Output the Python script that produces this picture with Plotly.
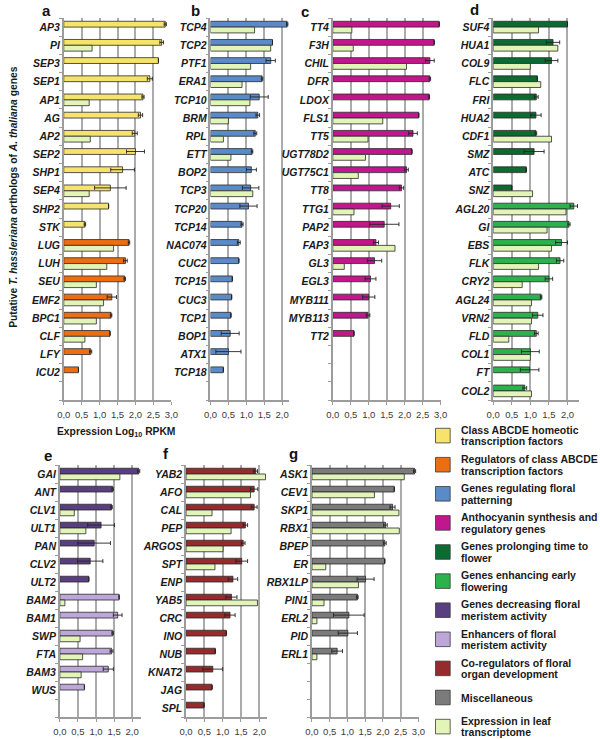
import plotly.graph_objects as go

W, H = 600, 739
FONT = 'Liberation Sans, Arial, sans-serif'

COLORS = {
    'abcde': '#F5E36B',
    'regulators': '#EC6E12',
    'patterning': '#5B8AC8',
    'anthocyanin': '#C1168C',
    'prolonging': '#0B6B30',
    'enhancing': '#2BB24C',
    'decreasing': '#5A3F80',
    'enhancers': '#BCA7D8',
    'coregulators': '#962B2E',
    'misc': '#7B7B7B',
    'leaf': '#E3F4B8',
}

# --- data (Log10 RPKM) ---
a_genes = ['AP3', 'PI', 'SEP3', 'SEP1', 'AP1', 'AG', 'AP2', 'SEP2', 'SHP1', 'SEP4',
           'SHP2', 'STK', 'LUG', 'LUH', 'SEU', 'EMF2', 'BPC1', 'CLF', 'LFY', 'ICU2']
a_values = [2.83, 2.73, 2.64, 2.40, 2.21, 2.14, 1.98, 2.00, 1.64, 1.30,
            1.25, 0.59, 1.82, 1.72, 1.70, 1.34, 1.32, 1.29, 0.75, 0.41]
a_errors = [0.03, 0.05, None, 0.07, 0.03, 0.06, 0.07, 0.25, 0.33, 0.44,
            None, 0.02, 0.02, 0.05, 0.02, 0.13, 0.02, None, 0.03, None]
a_leaf = [None, 0.79, None, None, 0.71, None, 0.74, None, None, 0.71,
          None, None, 1.39, 1.20, 0.91, 1.11, 0.91, 0.59, None, None]
a_groups = ['abcde'] * 12 + ['regulators'] * 8

b_genes = ['TCP4', 'TCP2', 'PTF1', 'ERA1', 'TCP10', 'BRM', 'RPL', 'ETT', 'BOP2', 'TCP3',
           'TCP20', 'TCP14', 'NAC074', 'CUC2', 'TCP15', 'CUC3', 'TCP1', 'BOP1', 'ATX1', 'TCP18']
b_values = [2.14, 1.73, 1.68, 1.44, 1.36, 1.32, 1.25, 1.16, 1.14, 1.12,
            1.06, 0.88, 0.79, 0.79, 0.61, 0.59, 0.57, 0.55, 0.50, 0.36]
b_errors = [0.02, None, 0.13, 0.02, 0.25, 0.05, 0.04, 0.02, 0.14, 0.23,
            0.24, 0.03, 0.04, None, None, None, None, 0.25, 0.35, None]
b_leaf = [1.23, 1.68, 1.12, 0.88, 1.10, 0.50, 0.36, 0.57, None, 1.18,
          None, None, None, None, None, None, None, None, None, None]
b_groups = ['patterning'] * 20

c_genes = ['TT4', 'F3H', 'CHIL', 'DFR', 'LDOX', 'FLS1', 'TT5', 'UGT78D2', 'UGT75C1', 'TT8',
           'TTG1', 'PAP2', 'FAP3', 'GL3', 'EGL3', 'MYB111', 'MYB113', 'TT2']
c_values = [2.96, 2.82, 2.70, 2.70, 2.68, 2.39, 2.23, 2.20, 2.05, 1.91,
            1.61, 1.43, 1.20, 1.16, 1.05, 1.00, 0.98, 0.59]
c_errors = [None, None, 0.12, 0.02, 0.01, None, 0.12, None, 0.05, 0.06,
            0.24, 0.41, 0.07, 0.20, 0.15, 0.17, 0.05, None]
c_leaf = [0.53, 0.57, 2.05, None, None, 1.39, 0.98, 0.91, 0.71, None,
          0.59, None, 1.73, 0.32, None, None, None, None]
c_groups = ['anthocyanin'] * 18

d_genes = ['SUF4', 'HUA1', 'COL9', 'FLC', 'FRI', 'HUA2', 'CDF1', 'SMZ', 'ATC', 'SNZ',
           'AGL20', 'GI', 'EBS', 'FLK', 'CRY2', 'AGL24', 'VRN2', 'FLD', 'COL1', 'FT', 'COL2']
d_values = [2.00, 1.61, 1.57, 1.19, 1.16, 1.15, 1.15, 1.10, 0.89, 0.50,
            2.17, 2.04, 1.84, 1.80, 1.50, 1.29, 1.20, 1.16, 1.00, 0.98, 0.85]
d_errors = [None, 0.18, 0.17, None, 0.05, 0.14, 0.02, 0.27, None, None,
            0.10, 0.03, 0.16, 0.10, 0.10, 0.02, 0.14, 0.05, 0.24, 0.25, 0.05]
d_leaf = [1.22, 1.74, 1.00, 1.28, None, None, 1.57, None, None, 1.06,
          1.96, 1.45, 1.57, 1.22, 0.78, 1.03, 1.03, 0.42, 1.00, None, 1.03]
d_groups = ['prolonging'] * 10 + ['enhancing'] * 11

e_genes = ['GAI', 'ANT', 'CLV1', 'ULT1', 'PAN', 'CLV2', 'ULT2', 'BAM2', 'BAM1', 'SWP',
           'FTA', 'BAM3', 'WUS']
e_values = [2.18, 1.46, 1.43, 1.14, 0.95, 0.84, 0.80, 1.64, 1.60, 1.46,
            1.43, 1.34, 0.68]
e_errors = [0.03, 0.02, 0.02, 0.37, 0.45, 0.35, None, None, 0.12, 0.02,
            0.04, 0.14, None]
e_leaf = [1.66, None, 0.40, 0.72, None, None, None, 0.14, None, 0.56,
          0.63, 0.59, None]
e_groups = ['decreasing'] * 7 + ['enhancers'] * 6

f_genes = ['YAB2', 'AFO', 'CAL', 'PEP', 'ARGOS', 'SPT', 'ENP', 'YAB5', 'CRC', 'INO',
           'NUB', 'KNAT2', 'JAG', 'SPL']
f_values = [1.90, 1.86, 1.86, 1.62, 1.56, 1.52, 1.28, 1.24, 1.20, 1.10,
            0.80, 0.73, 0.71, 0.49]
f_errors = [0.05, 0.10, 0.08, 0.06, 0.05, 0.16, 0.13, 0.15, 0.14, None,
            None, 0.27, None, None]
f_leaf = [2.17, 1.76, 0.71, 1.23, 1.01, 0.79, None, 1.95, None, None,
          None, None, None, None]
f_groups = ['coregulators'] * 14

g_genes = ['ASK1', 'CEV1', 'SKP1', 'RBX1', 'BPEP', 'ER', 'RBX1LP', 'PIN1', 'ERL2', 'PID', 'ERL1']
g_values = [2.89, 2.32, 2.27, 2.07, 2.05, 2.05, 1.51, 1.28, 1.04, 1.01, 0.71]
g_errors = [0.03, None, 0.07, 0.05, 0.04, None, 0.24, 0.02, 0.43, 0.27, 0.15]
g_leaf = [2.60, 1.76, 2.45, 2.46, None, 0.39, 1.31, 0.34, 0.14, None, 0.14]
g_groups = ['misc'] * 11

legend_keys = ['abcde', 'regulators', 'patterning', 'anthocyanin', 'prolonging',
               'enhancing', 'decreasing', 'enhancers', 'coregulators', 'misc', 'leaf']
legend_labels = [
    ['Class ABCDE homeotic', 'transcription factors'],
    ['Regulators of class ABCDE', 'transcription factors'],
    ['Genes regulating floral', 'patterning'],
    ['Anthocyanin synthesis and', 'regulatory genes'],
    ['Genes prolonging time to', 'flower'],
    ['Genes enhancing early', 'flowering'],
    ['Genes decreasing floral', 'meristem activity'],
    ['Enhancers of floral', 'meristem activity'],
    ['Co-regulators of floral', 'organ development'],
    ['Miscellaneous'],
    ['Expression in leaf', 'transcriptome'],
]

# --- panel placement (pixels) ---
panels = [
    dict(tag='a', genes=a_genes, values=a_values, errors=a_errors, leaf=a_leaf, groups=a_groups,
         x0=58, x1=168.1, xmax=3.0, y0=18, y1=400, slots=21, lab=(40, 10)),
    dict(tag='b', genes=b_genes, values=b_values, errors=b_errors, leaf=b_leaf, groups=b_groups,
         x0=208, x1=288.7, xmax=2.2, y0=18, y1=400, slots=21, lab=(193, 10)),
    dict(tag='c', genes=c_genes, values=c_values, errors=c_errors, leaf=c_leaf, groups=c_groups,
         x0=333, x1=443.4, xmax=3.0, y0=18, y1=400, slots=21, lab=(305, 11)),
    dict(tag='d', genes=d_genes, values=d_values, errors=d_errors, leaf=d_leaf, groups=d_groups,
         x0=497, x1=584.4, xmax=2.3, y0=18, y1=400, slots=21, lab=(478, 9)),
    dict(tag='e', genes=e_genes, values=e_values, errors=e_errors, leaf=e_leaf, groups=e_groups,
         x0=54, x1=137.3, xmax=2.25, y0=465, y1=717, slots=14, lab=(42, 455)),
    dict(tag='f', genes=f_genes, values=f_values, errors=f_errors, leaf=f_leaf, groups=f_groups,
         x0=183, x1=265.5, xmax=2.2, y0=465, y1=717, slots=14, lab=(163, 453)),
    dict(tag='g', genes=g_genes, values=g_values, errors=g_errors, leaf=g_leaf, groups=g_groups,
         x0=311.7, x1=420.7, xmax=3.0, y0=465, y1=717, slots=14, lab=(293, 453)),
]

AXIS_GREY = '#9c9c9c'

fig = go.Figure()
layout = dict(
    width=W, height=H,
    margin=dict(l=0, r=0, t=0, b=0),
    paper_bgcolor='white', plot_bgcolor='white',
    barmode='group', bargap=0.36, bargroupgap=0,
    showlegend=False,
    font=dict(family=FONT, color='#1a1a1a'),
)
annotations = []
shapes = []

for i, p in enumerate(panels):
    n = len(p['genes'])
    pos = list(range(n))
    suffix = '' if i == 0 else str(i + 1)
    xa, ya = 'x' + suffix, 'y' + suffix

    fig.add_trace(go.Bar(
        x=p['values'], y=pos, orientation='h',
        marker=dict(color=[COLORS[g] for g in p['groups']],
                    line=dict(color='#2a2a2a', width=0.8)),
        error_x=dict(type='data', array=p['errors'], color='#222222', thickness=0.9, width=2),
        xaxis=xa, yaxis=ya, hoverinfo='x+text', text=p['genes'], textposition='none',
    ))
    fig.add_trace(go.Bar(
        x=p['leaf'], y=pos, orientation='h',
        marker=dict(color=COLORS['leaf'], line=dict(color='#2a2a2a', width=0.8)),
        xaxis=xa, yaxis=ya, hoverinfo='x+text', text=p['genes'], textposition='none',
    ))

    tick_top = 3.0 if p['xmax'] >= 3.0 else 2.0
    tvals = [k * 0.5 for k in range(int(tick_top / 0.5) + 1)]
    layout['xaxis' + suffix] = dict(
        domain=[p['x0'] / W, p['x1'] / W], anchor=ya,
        range=[0, p['xmax'] + 0.003],
        tickmode='array', tickvals=tvals,
        ticktext=[f'{t:.1f}'.replace('.', ',') for t in tvals],
        showgrid=True, gridcolor='#ababab', gridwidth=1.5,
        showline=True, linecolor=AXIS_GREY, linewidth=1.5,
        ticks='outside', ticklen=3, tickcolor=AXIS_GREY, ticklabelstandoff=2,
        tickfont=dict(family=FONT, size=9.5, color='#3a3a3a'),
        zeroline=False, fixedrange=True,
    )
    layout['yaxis' + suffix] = dict(
        domain=[1 - p['y1'] / H, 1 - p['y0'] / H], anchor=xa,
        range=[p['slots'] - 0.5, -0.5],
        tickmode='array', tickvals=pos, ticktext=p['genes'], ticks='',
        tickfont=dict(family=FONT, size=10.5, color='#1a1a1a', weight='bold', style='italic'),
        minor=dict(tickmode='array', tickvals=[k - 0.5 for k in range(p['slots'] + 1)],
                   ticks='outside', ticklen=3, tickcolor=AXIS_GREY, tickwidth=1),
        showline=True, linecolor=AXIS_GREY, linewidth=1.5,
        showgrid=False, zeroline=False, fixedrange=True,
    )

    lx, ly = p['lab']
    annotations.append(dict(
        x=lx / W, y=1 - ly / H, xref='paper', yref='paper', showarrow=False,
        text='<b>' + p['tag'] + '</b>', font=dict(family=FONT, size=15, color='#111'),
        xanchor='center', yanchor='middle',
    ))

# axis titles
annotations.append(dict(
    x=111 / W, y=1 - 432 / H, xref='paper', yref='paper', showarrow=False,
    text='<b>Expression Log<sub>10</sub> RPKM</b>',
    font=dict(family=FONT, size=10.3, color='#1a1a1a'), xanchor='center', yanchor='middle',
))
annotations.append(dict(
    x=6 / W, y=1 - 197 / H, xref='paper', yref='paper', showarrow=False, textangle=-90,
    text='<b>Putative <i>T. hassleriana</i> orthologs of <i>A. thaliana</i> genes</b>',
    font=dict(family=FONT, size=10.3, color='#1a1a1a'), xanchor='center', yanchor='middle',
))

# legend
for k, (key, lines) in enumerate(zip(legend_keys, legend_labels)):
    cy = 435.6 + k * 29.1
    shapes.append(dict(
        type='rect', xref='paper', yref='paper',
        x0=438 / W, x1=453 / W, y0=1 - (cy + 7.3) / H, y1=1 - (cy - 7.3) / H,
        fillcolor=COLORS[key], line=dict(color='#3a3a3a', width=0.8),
    ))
    offsets = [0] if len(lines) == 1 else [-5.8, 5.8]
    for line, off in zip(lines, offsets):
        annotations.append(dict(
            x=462 / W, y=1 - (cy + off) / H, xref='paper', yref='paper', showarrow=False,
            text='<b>' + line + '</b>', font=dict(family=FONT, size=10.5, color='#1a1a1a'),
            xanchor='left', yanchor='middle',
        ))

layout['annotations'] = annotations
layout['shapes'] = shapes
fig.update_layout(**layout)

# the page body has a default 8px margin; drop it so the figure fills the window
fig.write_html('out.html', config={'displayModeBar': False},
               post_script="document.body.style.margin = '0px';")
